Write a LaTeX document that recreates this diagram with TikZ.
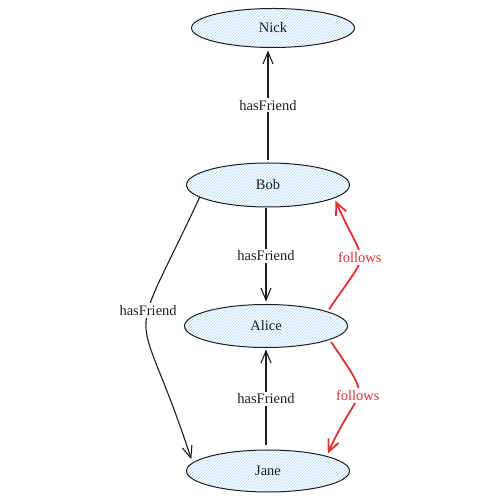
\documentclass[tikz,border=0pt]{standalone}
\usepackage{fontspec}
\setmainfont{Liberation Serif}
\usetikzlibrary{arrows.meta,patterns,shapes.geometric}
\definecolor{inkc}{RGB}{30,30,30}
\definecolor{hatchc}{RGB}{165,214,248}
\definecolor{redc}{RGB}{224,49,49}
\tikzset{
  person/.style={ellipse, draw=inkc, line width=1pt, pattern=north east lines, pattern color=hatchc,
    minimum width=163pt, minimum height=43pt, inner sep=0pt, outer sep=0pt,
    font=\fontsize{14.5}{16}\selectfont, text=inkc},
  rel/.style={draw=inkc, line width=1.1pt, -{Straight Barb[length=12pt,width=10pt,line width=1.1pt]}},
  fol/.style={draw=redc, line width=1.8pt, -{Straight Barb[length=12pt,width=11pt,line width=1.8pt]}},
  lab/.style={fill=white, inner sep=2pt, font=\fontsize{14.5}{16}\selectfont, text=inkc},
  flab/.style={lab, text=redc}
}
\begin{document}
\begin{tikzpicture}[x=1pt,y=1pt]
\useasboundingbox (0,0) rectangle (500,500);
\fill[white] (0,0) rectangle (500,500);
\node[person, minimum height=39pt] (nick) at (273,472) {Nick};
\node[person, minimum height=44pt] (bob) at (268,315) {Bob};
\node[person] (alice) at (266,174) {Alice};
\node[person, minimum height=42pt] (jane) at (268,29) {Jane};
% hasFriend edges
\draw[rel, shorten <=3pt, shorten >=3pt] (bob.north) -- (bob.north |- nick.south)
  node[lab, midway] (l1) {hasFriend};
\draw[rel, shorten <=1pt, shorten >=3pt] (bob.south -| alice.north) -- (alice.north)
  node[lab, midway] (l2) {hasFriend};
\draw[rel, shorten <=5pt, shorten >=2pt] (jane.north -| alice.south) -- (alice.south)
  node[lab, midway] (l3) {hasFriend};
\draw[rel, shorten >=4pt] (bob.190) to[out=-115, in=108, looseness=1.75]
  node[lab, pos=0.39] (l4) {hasFriend} (jane.174);
% follows edges
\draw[fol, shorten <=3pt, shorten >=3pt] (alice.13) to[out=56, in=-66, looseness=1.8]
  node[flab, midway] (l5) {follows} (bob.-11);
\draw[fol, shorten <=3pt, shorten >=3pt] (alice.-12) to[out=-56, in=66, looseness=1.8]
  node[flab, midway] (l6) {follows} (jane.14);
\end{tikzpicture}
\end{document}
